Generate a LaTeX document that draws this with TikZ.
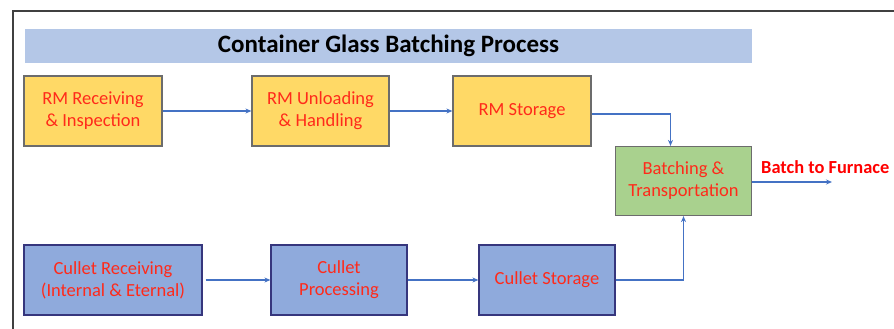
\documentclass[tikz,border=0pt]{standalone}
\usepackage{fontspec}
\setmainfont{Carlito}
\usetikzlibrary{arrows.meta}
\definecolor{titlebg}{HTML}{B4C7E7}
\definecolor{rmfill}{HTML}{FFD966}
\definecolor{batfill}{HTML}{A9D18E}
\definecolor{culfill}{HTML}{8FAADC}
\definecolor{txtred}{HTML}{FF2A1A}
\definecolor{arrowblue}{HTML}{4472C4}
\definecolor{framegray}{HTML}{404040}
\tikzset{
  procbox/.style={draw=gray!85!black, line width=1.2pt, minimum height=70pt, inner sep=2pt,
    align=center, text=txtred, font=\fontsize{18.5}{22}\selectfont},
  rmbox/.style={procbox, fill=rmfill, minimum width=138pt},
  culbox/.style={procbox, fill=culfill, draw=gray!60!blue!70!black, minimum width=136pt},
  batbox/.style={procbox, fill=batfill, minimum width=136pt, minimum height=69pt},
  flow/.style={draw=arrowblue, line width=1.2pt, -{Stealth[length=6pt,width=5pt]}}
}
\begin{document}
\begin{tikzpicture}[x=1pt,y=-1pt]
\useasboundingbox (0,0) rectangle (894,329);
\fill[white] (0,0) rectangle (894,329);
% frame
\draw[framegray, line width=1.6pt] (13,329) -- (13,11) -- (894,11);
% title bar
\node[fill=titlebg, minimum width=727pt, minimum height=34pt, inner sep=0pt,
  font=\fontsize{25}{30}\selectfont\bfseries] (title) at (388.5,46) {Container Glass Batching Process};
% top row
\node[rmbox] (rmr) at (93,111) {RM Receiving\\\& Inspection};
\node[rmbox, minimum width=137pt] (rmu) at (320.5,111) {RM Unloading\\\& Handling};
\node[rmbox] (rms) at (522,111) {RM Storage};
% batching
\node[batbox] (bat) at (683.5,181) {Batching \&\\Transportation};
% bottom row
\node[culbox, minimum width=178pt] (cr) at (113,280) {Cullet Receiving\\(Internal \& Eternal)};
\node[culbox] (cp) at (339,280) {Cullet\\Processing};
\node[culbox] (cs) at (547,280) {Cullet Storage};
% output
\coordinate (out) at (832,182);
\node[anchor=west, text=red, font=\fontsize{18.4}{22}\selectfont\bfseries, inner sep=0pt] (outlbl) at (761,167) {Batch to Furnace};
% connectors
\draw[flow] (rmr.east) -- (rmu.west);
\draw[flow] (rmu.east) -- (rms.west);
\draw[flow] ([yshift=-3pt]rms.east) -| ([xshift=-13pt]bat.north);
\draw[flow] ([xshift=3pt]cr.east) -- (cp.west);
\draw[flow] (cp.east) -- (cs.west);
\draw[flow] (cs.east) -| (bat.south);
\draw[flow] (bat.east |- out) -- (out);
\end{tikzpicture}
\end{document}
